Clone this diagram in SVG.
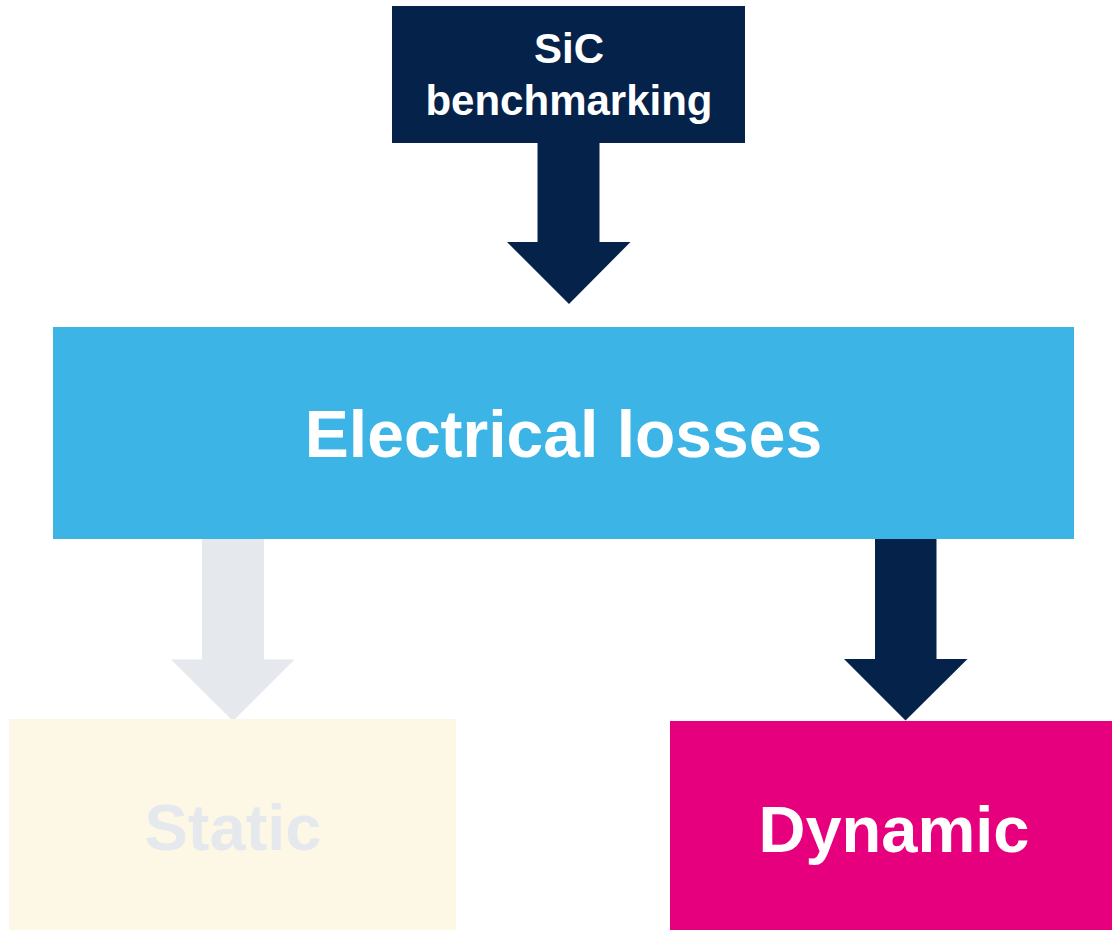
<svg xmlns="http://www.w3.org/2000/svg" width="1112" height="930" viewBox="0 0 1112 930">
<style>
text{font-family:"Liberation Sans",Arial,sans-serif;font-weight:bold;text-anchor:middle}
.w{fill:#ffffff}
.navy{fill:#05234A}
.pale{fill:#E5E8ED}
</style>
<rect width="1112" height="930" fill="#ffffff"/>
<g id="connectors">
<polygon class="navy" points="537.5,143 599.5,143 599.5,242 630.5,242 569,304 507,242 537.5,242"/>
<polygon class="pale" points="202,539 264,539 264,659.5 294.5,659.5 233,721 171,659.5 202,659.5"/>
<polygon class="navy" points="875,539 936.5,539 936.5,659 967.5,659 905.5,720.5 844,659 875,659"/>
</g>
<g id="sic">
<rect class="navy" x="392" y="6" width="353" height="137"/>
<text class="w" x="569" y="63" font-size="42">SiC</text>
<text class="w" x="569" y="115" font-size="42">benchmarking</text>
</g>
<g id="electrical">
<rect x="53" y="327" width="1021" height="212" fill="#3CB4E5"/>
<text class="w" x="563.5" y="457" font-size="66">Electrical losses</text>
</g>
<g id="static">
<rect x="9" y="719" width="447" height="211" fill="#FDF8E6"/>
<text class="pale" x="233" y="850" font-size="65">Static</text>
</g>
<g id="dynamic">
<rect x="670" y="721" width="442" height="209" fill="#E6007E"/>
<text class="w" x="894" y="852" font-size="65">Dynamic</text>
</g>
</svg>
